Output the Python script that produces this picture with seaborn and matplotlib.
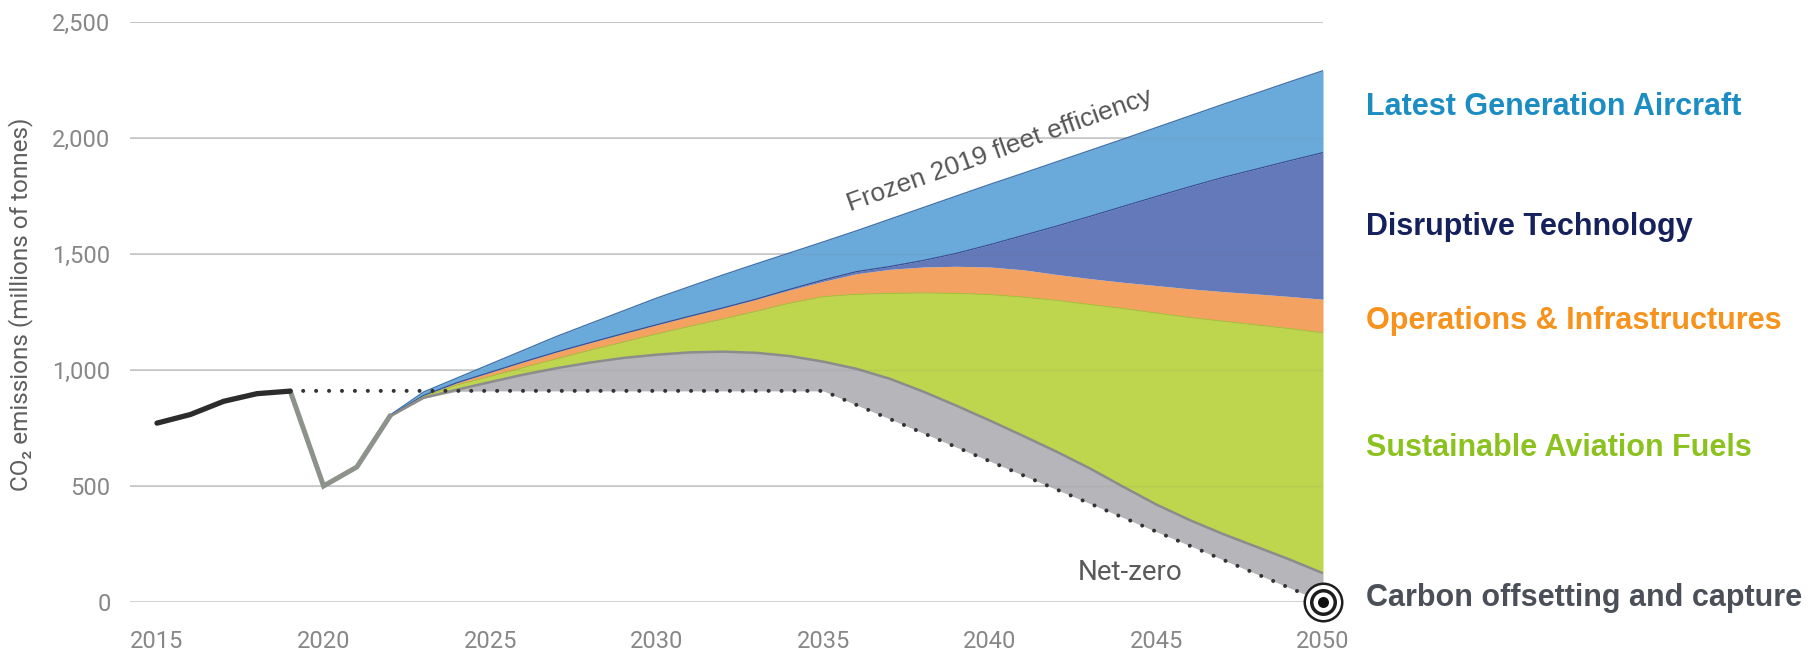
import numpy as np
import pandas as pd
import matplotlib
matplotlib.use("Agg")
import matplotlib.pyplot as plt
import seaborn as sns

# ---- data (million tonnes CO2) ----
hist_years = [2015, 2016, 2017, 2018, 2019]
hist_co2 = [771, 808, 865, 898, 909]

covid_years = [2019, 2020, 2021, 2022]
covid_co2 = [909, 500, 582, 803]

netzero_years = [2019, 2035, 2050]
netzero_co2 = [910, 910, 0]

years = [2022, 2023, 2024, 2025, 2026, 2027, 2028, 2029, 2030, 2031, 2032,
         2033, 2034, 2035, 2036, 2037, 2038, 2039, 2040, 2041, 2042, 2043,
         2044, 2045, 2046, 2047, 2048, 2049, 2050]
# lower edge of the carbon offsetting band (net emissions path)
net_path = [800, 878, 908, 910, 910, 910, 910, 910, 910, 910, 910,
            910, 910, 910, 849, 789, 728, 667, 607, 546, 485, 425,
            364, 303, 243, 182, 121, 61, 0]
# upper edges of each stacked abatement band
offset_top = [800, 880, 915, 948, 980, 1008, 1032, 1052, 1066, 1076, 1079,
              1074, 1060, 1036, 1005, 962, 907, 846, 782, 716, 648, 576,
              497, 420, 353, 293, 238, 183, 124]
saf_top = [801, 885, 935, 972, 1010, 1048, 1085, 1120, 1155, 1188, 1220,
           1253, 1288, 1316, 1326, 1330, 1332, 1330, 1325, 1314, 1300, 1282,
           1265, 1245, 1226, 1210, 1194, 1178, 1160]
ops_top = [803, 890, 945, 990, 1035, 1078, 1118, 1157, 1195, 1232, 1268,
           1305, 1345, 1382, 1415, 1434, 1444, 1447, 1444, 1432, 1412, 1394,
           1378, 1364, 1350, 1338, 1328, 1317, 1305]
disruptive_top = [803, 890, 945, 990, 1035, 1078, 1118, 1157, 1195, 1232, 1268,
                  1306, 1348, 1388, 1424, 1446, 1472, 1503, 1540, 1580, 1620, 1662,
                  1705, 1748, 1790, 1830, 1866, 1902, 1937]
frozen_2019 = [806, 905, 965, 1025, 1085, 1145, 1200, 1255, 1310, 1360, 1410,
               1458, 1505, 1552, 1600, 1650, 1700, 1750, 1800, 1848, 1897, 1946,
               1995, 2045, 2095, 2145, 2193, 2242, 2290]

y_ticks = [0, 500, 1000, 1500, 2000, 2500]
y_ticklabels = ["0", "500", "1,000", "1,500", "2,000", "2,500"]
x_ticks = [2015, 2020, 2025, 2030, 2035, 2040, 2045, 2050]

band_labels = ["Latest Generation Aircraft", "Disruptive Technology",
               "Operations & Infrastructures", "Sustainable Aviation Fuels",
               "Carbon offsetting and capture"]
band_label_levels = [2134, 1616, 1211, 664, 17]

# ---- styling ----
sns.set_theme(style="white")
plt.rcParams["font.family"] = ["Liberation Sans", "DejaVu Sans"]
axis_font = ["Roboto", "DejaVu Sans"]

c_latest = "#6aaada"
c_disrupt = "#6479b9"
c_ops = "#f4a262"
c_saf = "#bdd64e"
c_offset = "#b5b5ba"
text_colors = ["#1c8dc2", "#15215c", "#f7921d", "#8cc21f", "#4b4f57"]

W, H = 1814, 657
fig = plt.figure(figsize=(W / 100, H / 100), dpi=100)
ax = fig.add_axes([130 / W, 1 - 602 / H, (1323 - 130) / W, (602 - 22) / H])

yr = np.array(years)

# stacked bands, bottom to top
ax.fill_between(yr, net_path, offset_top, color=c_offset, lw=0, zorder=2)
ax.fill_between(yr, offset_top, saf_top, color=c_saf, lw=0, zorder=2)
ax.fill_between(yr, saf_top, ops_top, color=c_ops, lw=0, zorder=2)
ax.fill_between(yr, ops_top, disruptive_top, color=c_disrupt, lw=0, zorder=2)
ax.fill_between(yr, disruptive_top, frozen_2019, color=c_latest, lw=0, zorder=2)

# band edges
sns.lineplot(x=years, y=frozen_2019, color="#3f74ad", lw=1.0, ax=ax, zorder=3)
sns.lineplot(x=years, y=disruptive_top, color="#3b4f95", lw=0.9, ax=ax, zorder=3)
sns.lineplot(x=years, y=saf_top, color="#9fc534", lw=0.8, ax=ax, zorder=3)
sns.lineplot(x=years, y=offset_top, color="#8c8c8c", lw=1.8, ax=ax, zorder=3)

# faint gridlines seen through the bands
for v in y_ticks[1:]:
    ax.axhline(v, color="#6f6f6f", lw=1.0, alpha=0.10, zorder=3.5)

# net-zero pathway (dotted)
sns.lineplot(x=netzero_years, y=netzero_co2, color="#333333", lw=2.9, ax=ax,
             zorder=4, linestyle=(0, (0.01, 3.2)), dash_capstyle="round")

# historic emissions and the 2020 drop
sns.lineplot(x=covid_years, y=covid_co2, color="#8d928a", lw=3.6, ax=ax,
             zorder=5, solid_joinstyle="miter")
sns.lineplot(x=hist_years, y=hist_co2, color="#2c2c2c", lw=3.8, ax=ax,
             zorder=6, solid_capstyle="round")

# target marker at 2050
for r, col in [(20, "#1e1e1e"), (17.5, "white"), (13.5, "#1e1e1e"),
               (10, "white"), (5.5, "#111111")]:
    ax.scatter([2050], [0], s=(2 * r * 0.72) ** 2, color=col, lw=0,
               zorder=8, clip_on=False)

# axes
ax.set_xlim(2014.19, 2050)
ax.set_ylim(0, 2500)
ax.set_yticks(y_ticks)
ax.set_yticklabels(y_ticklabels)
ax.set_xticks(x_ticks)
ax.yaxis.grid(True, color="#c9c9c9", lw=1.2, zorder=0)
ax.xaxis.grid(False)
ax.set_axisbelow(True)
for s in ax.spines.values():
    s.set_visible(False)
ax.tick_params(axis="y", length=0, pad=14, labelsize=17, labelcolor="#878787")
ax.tick_params(axis="x", length=0, pad=20, labelsize=17, labelcolor="#878787")
for lab in ax.get_xticklabels() + ax.get_yticklabels():
    lab.set_family(axis_font)
ax.set_xlabel("")
ax.set_ylabel("")
if ax.get_legend() is not None:
    ax.get_legend().remove()

fig.text(21 / W, 1 - 304 / H, "CO\u2082 emissions (millions of tonnes)",
         rotation=90, ha="center", va="center", fontsize=17.5,
         color="#5e5e5e", family=axis_font)

# annotations
ax.text(2040.3, 1945, "Frozen 2019 fleet efficiency", rotation=19.7,
        ha="center", va="center", fontsize=19, color="#555555",
        rotation_mode="anchor")
ax.text(2044.2, 129, "Net-zero", ha="center", va="center", fontsize=20,
        color="#5a5a5a", family=axis_font)

for lab, lvl, col in zip(band_labels, band_label_levels, text_colors):
    ax.text(2051.3, lvl, lab, ha="left", va="center", fontsize=22,
            fontweight="bold", color=col, clip_on=False)

fig.savefig("out.png", dpi=100, facecolor="white")
